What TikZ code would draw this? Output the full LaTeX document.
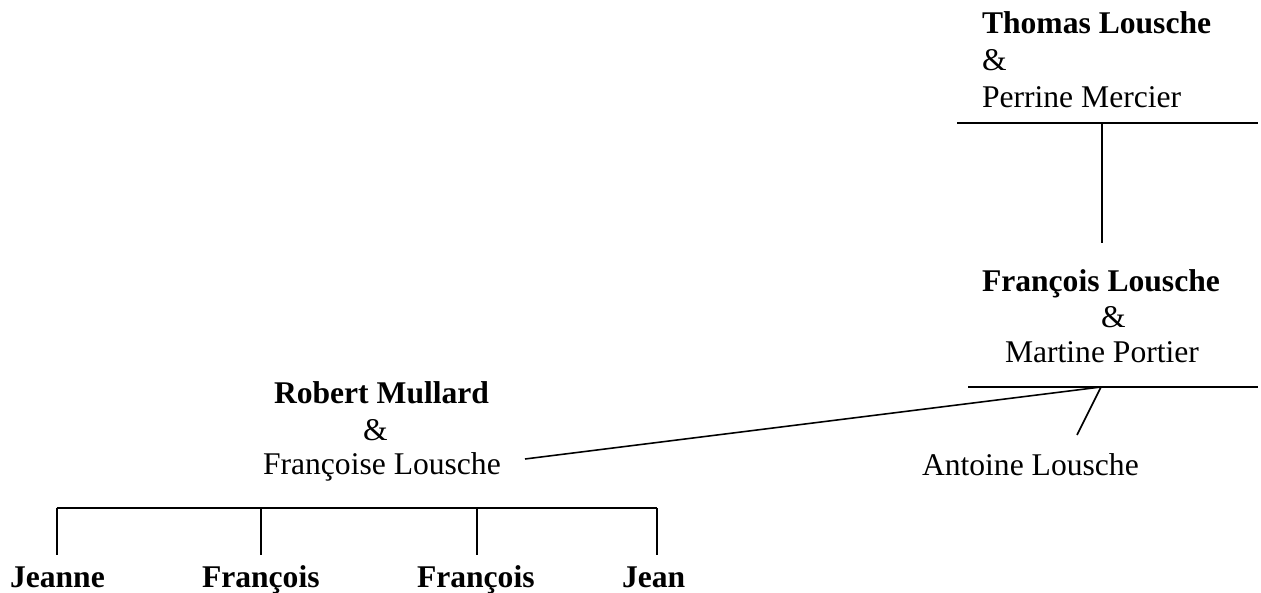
\documentclass[tikz,border=0pt]{standalone}
\usepackage{fontspec}
\setmainfont{Liberation Serif}
\begin{document}
\begin{tikzpicture}[x=1pt,y=-1pt,
  txt/.style={inner sep=0pt,outer sep=0pt,font=\fontsize{31.6}{37}\selectfont,anchor=base west},
  bld/.style={txt,font=\fontsize{31.6}{37}\selectfont\bfseries},
  ln/.style={line width=1.6pt,line cap=butt}]
\useasboundingbox (0,0) rectangle (1261,593);
% top couple
\node[bld] (thomas) at (982,34) {Thomas Lousche};
\node[txt] (amp1) at (982,71) {\&};
\node[txt] (perrine) at (982,108) {Perrine Mercier};
\coordinate (l1a) at (957,123);
\coordinate (l1b) at (1258,123);
\coordinate (l1m) at (1101.7,123);
\coordinate (l1d) at (1101.7,243);
\draw[ln] (l1a) -- (l1b);
\draw[ln] (l1m) -- (l1d);
% second couple
\node[bld] (francois) at (982,292) {François Lousche};
\node[txt] (amp2) at (1101,328) {\&};
\node[txt] (martine) at (1005,363) {Martine Portier};
\coordinate (l2a) at (968,387);
\coordinate (l2b) at (1258,387);
\coordinate (l2m) at (1101,387);
\coordinate (l2d) at (1077,435);
\draw[ln] (l2a) -- (l2b);
\draw[ln] (l2m) -- (l2d);
\node[txt] (antoine) at (922,475) {Antoine Lousche};
% third couple
\node[bld] (robert) at (274,403) {Robert Mullard};
\node[txt] (amp3) at (363,440) {\&};
\node[txt] (francoise) at (263,474) {Françoise Lousche};
\coordinate (l3s) at (525,459);
\draw[ln] (l3s) -- (l2m);
% children
\coordinate (c1) at (56.7,508);
\coordinate (c2) at (260.7,508);
\coordinate (c3) at (477,508);
\coordinate (c4) at (657,508);
\draw[ln] (c1) -- (c4);
\draw[ln] (c1) -- ++(0,47);
\draw[ln] (c2) -- ++(0,47);
\draw[ln] (c3) -- ++(0,47);
\draw[ln] (c4) -- ++(0,47);
\node[bld] (jeanne) at (10,587) {Jeanne};
\node[bld] (fr1) at (202,587) {François};
\node[bld] (fr2) at (417,587) {François};
\node[bld] (jean) at (622,587) {Jean};
\end{tikzpicture}
\end{document}
